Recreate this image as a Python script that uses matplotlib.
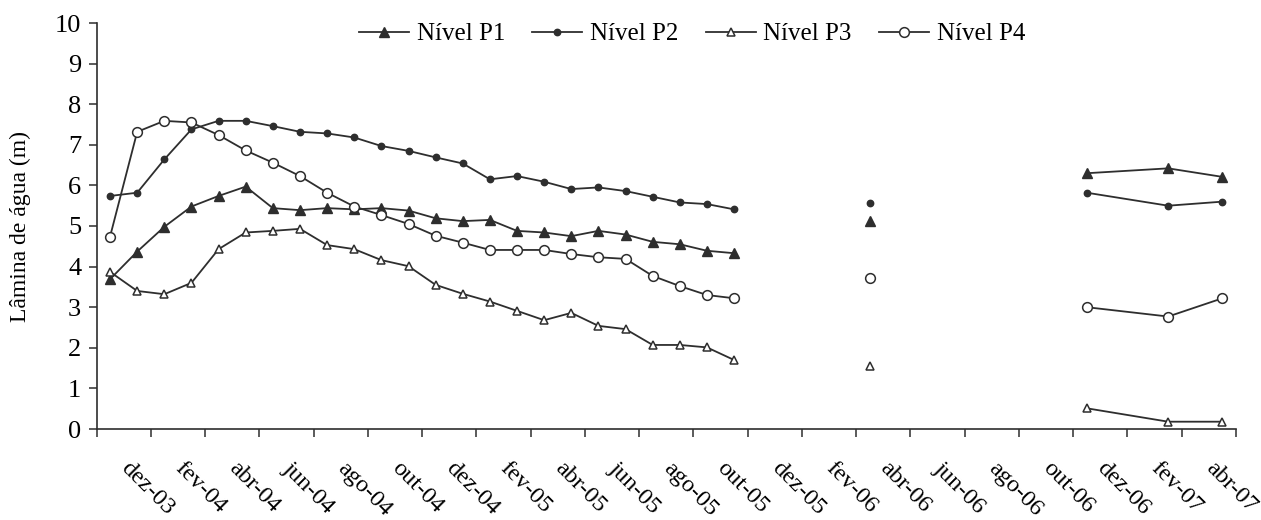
import numpy as np
import matplotlib.pyplot as plt

plt.rcParams['font.family'] = ['Liberation Serif', 'DejaVu Serif']

# month index of each reading (0 = first reading); nan breaks the line
months = [0, 1, 2, 3, 4, 5, 6, 7, 8, 9, 10, 11, 12, 13, 14, 15, 16, 17, 18, 19, 20, 21, 22, 23,
          np.nan, 28, np.nan, 36, 39, 41]

nivel_p1 = [3.69, 4.37, 4.98, 5.48, 5.74, 5.97, 5.44, 5.39, 5.44, 5.41, 5.44, 5.38,
            5.19, 5.12, 5.15, 4.88, 4.84, 4.75, 4.88, 4.79, 4.61, 4.55, 4.39, 4.33,
            np.nan, 5.12, np.nan, 6.30, 6.42, 6.21]
nivel_p2 = [5.74, 5.82, 6.64, 7.38, 7.59, 7.59, 7.46, 7.32, 7.28, 7.18, 6.97, 6.85,
            6.69, 6.54, 6.15, 6.23, 6.09, 5.91, 5.95, 5.86, 5.72, 5.58, 5.54, 5.41,
            np.nan, 5.56, np.nan, 5.82, 5.50, 5.60]
nivel_p3 = [3.87, 3.40, 3.32, 3.60, 4.43, 4.84, 4.88, 4.93, 4.53, 4.43, 4.16, 4.01,
            3.55, 3.33, 3.14, 2.91, 2.68, 2.86, 2.54, 2.46, 2.07, 2.07, 2.01, 1.70,
            np.nan, 1.55, np.nan, 0.51, 0.18, 0.18]
nivel_p4 = [4.74, 7.32, 7.59, 7.55, 7.24, 6.86, 6.56, 6.23, 5.82, 5.48, 5.27, 5.05,
            4.76, 4.59, 4.41, 4.41, 4.41, 4.31, 4.23, 4.19, 3.77, 3.52, 3.30, 3.22,
            np.nan, 3.73, np.nan, 3.00, 2.77, 3.22]

date_labels = ['dez-03', 'fev-04', 'abr-04', 'jun-04', 'ago-04', 'out-04', 'dez-04',
               'fev-05', 'abr-05', 'jun-05', 'ago-05', 'out-05', 'dez-05', 'fev-06',
               'abr-06', 'jun-06', 'ago-06', 'out-06', 'dez-06', 'fev-07', 'abr-07']

line_col = '#2e2e2e'

fig = plt.figure(figsize=(12.61, 5.20), dpi=100)
ax = fig.add_axes([96.5 / 1261, 1 - 429 / 520, (1236 - 96.5) / 1261, 406 / 520])

x = np.array(months, dtype=float)
ax.plot(x, nivel_p1, '-', color=line_col, lw=1.3, marker='^', ms=6.8,
        mfc=line_col, mec=line_col, label='Nível P1')
ax.plot(x, nivel_p2, '-', color=line_col, lw=1.3, marker='o', ms=4.6,
        mfc=line_col, mec=line_col, label='Nível P2')
ax.plot(x, nivel_p3, '-', color=line_col, lw=1.3, marker='^', ms=6.2,
        mfc='white', mec=line_col, mew=1.1, label='Nível P3')
ax.plot(x, nivel_p4, '-', color=line_col, lw=1.3, marker='o', ms=7,
        mfc='white', mec=line_col, mew=1.1, label='Nível P4')

ax.set_xlim(-0.5, 41.5)
ax.set_ylim(0, 10)
ax.set_yticks(range(0, 11))

# ticks every two months, labels centred between them
ax.set_xticks(np.arange(-0.5, 41.6, 2))
ax.set_xticks(np.arange(0.5, 41, 2), minor=True)
ax.set_xticklabels([])
ax.set_xticklabels(date_labels, minor=True, rotation=-45, ha='left', va='center',
                   rotation_mode='anchor')

ax.tick_params(axis='x', which='major', direction='out', length=5.5, width=1.1, color=line_col)
ax.tick_params(axis='x', which='minor', length=0, pad=26, labelsize=17.5)
ax.tick_params(axis='y', direction='out', length=6, width=1.1, color=line_col,
               labelsize=19, pad=5)

for s in ['top', 'right']:
    ax.spines[s].set_visible(False)
for s in ['left', 'bottom']:
    ax.spines[s].set_color(line_col)
    ax.spines[s].set_linewidth(1.2)

ax.set_ylabel('Lâmina de água (m)', fontsize=17, labelpad=17)

ax.legend(loc='center', bbox_to_anchor=(692 / 1261, 1 - 34 / 520),
          bbox_transform=fig.transFigure, ncol=4, frameon=False, fontsize=18,
          numpoints=1, handlelength=2.0, handletextpad=0.3, columnspacing=1.1)

fig.savefig('out.png', dpi=100)
